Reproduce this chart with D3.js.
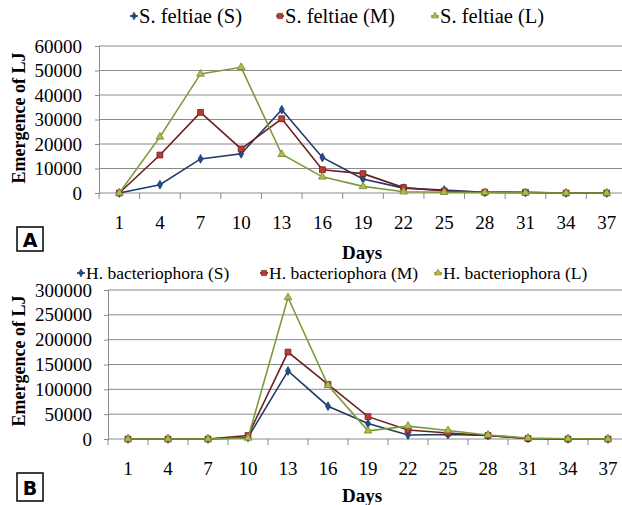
<!DOCTYPE html>
<html>
<head>
<meta charset="utf-8">
<script src="https://cdn.jsdelivr.net/npm/d3@7"></script>
</head>
<body style="margin:0">
<svg id="viz" width="622" height="505"></svg>
<script>
const SERIF = '"Liberation Serif", monospace';

// shared x categories (days)
const days = [1, 4, 7, 10, 13, 16, 19, 22, 25, 28, 31, 34, 37];

// panel A, S. feltiae
const feltiaeNames = ['S. feltiae (S)', 'S. feltiae (M)', 'S. feltiae (L)'];
const feltiaeS = [0, 3400, 13900, 16000, 34000, 14500, 5700, 2000, 1200, 300, 200, 0, 0];
const feltiaeM = [0, 15500, 32900, 18000, 30300, 9500, 7900, 2200, 800, 300, 300, 0, 0];
const feltiaeL = [0, 22900, 48600, 51300, 15800, 6600, 2700, 500, 300, 200, 100, 0, 0];
const feltiaeTicks = [0, 10000, 20000, 30000, 40000, 50000, 60000];

// panel B, H. bacteriophora
const bacterioNames = ['H. bacteriophora (S)', 'H. bacteriophora (M)', 'H. bacteriophora (L)'];
const bacterioS = [0, 0, 0, 3000, 137000, 66000, 31000, 8000, 9000, 7000, 1000, 0, 0];
const bacterioM = [0, 0, 0, 7000, 175000, 110000, 45000, 18000, 12000, 7000, 1000, 0, 0];
const bacterioL = [0, 0, 0, 2000, 285000, 108000, 16500, 26000, 17000, 8000, 2000, 500, 0];
const bacterioTicks = [0, 50000, 100000, 150000, 200000, 250000, 300000];

const STYLES = [
  { line: '#1f3a68', fill: '#1f4e8c', stroke: '#1f3a68', symbol: d3.symbolDiamond, size: 22 },
  { line: '#6b1f1f', fill: '#c0392b', stroke: '#6b1f1f', symbol: d3.symbolSquare, size: 34 },
  { line: '#7d9a3a', fill: '#b5b84a', stroke: '#6f8a30', symbol: d3.symbolTriangle, size: 26 }
];

const svg = d3.select('#viz');

function label(sel, { x, y, text, size, bold, anchor = 'middle' }) {
  const t = sel.append('text')
    .attr('x', x)
    .attr('y', y)
    .attr('dy', '0.35em')
    .attr('text-anchor', anchor)
    .attr('font-family', 'Liberation Serif')
    .style('font-family', SERIF)
    .style('font-size', `${size}px`)
    .text(text);
  if (bold) t.style('font-weight', 'bold');
  return t;
}

function drawPanel({
  names, series, ticks, left, right, top, bottom, legendY, legendX, legendSize,
  tickLabelY, titleY, yTitleY, tickRight, box, boxLabel
}) {
  const g = svg.append('g');
  const x = d3.scaleBand().domain(days).range([left, right]);
  const y = d3.scaleLinear().domain([ticks[0], ticks[ticks.length - 1]]).range([bottom, top]);

  // gridlines
  g.append('g').selectAll('line')
    .data(ticks.slice(1))
    .join('line')
    .attr('x1', left).attr('x2', right)
    .attr('y1', d => y(d)).attr('y2', d => y(d))
    .attr('stroke', '#8a8a8a')
    .attr('stroke-width', 1);

  // y axis line and ticks; labels drawn separately in the serif face
  const yAxis = g.append('g')
    .attr('transform', `translate(${left},0)`)
    .call(d3.axisLeft(y).tickValues(ticks).tickSize(4).tickFormat(''));
  yAxis.select('.domain').attr('stroke', '#8a8a8a');
  yAxis.selectAll('.tick line').attr('stroke', '#8a8a8a');
  ticks.forEach(t => label(g, {
    x: tickRight, y: y(t), text: d3.format('d')(t), size: 19, anchor: 'end'
  }));

  // x axis: ticks on category boundaries
  const xAxis = g.append('g')
    .attr('transform', `translate(0,${bottom})`);
  xAxis.append('line')
    .attr('x1', left).attr('x2', right)
    .attr('stroke', '#8a8a8a');
  xAxis.selectAll('line.tk')
    .data(days)
    .join('line')
    .attr('class', 'tk')
    .attr('x1', d => x(d)).attr('x2', d => x(d))
    .attr('y1', 0).attr('y2', 6)
    .attr('stroke', '#8a8a8a');
  days.forEach(d => label(g, {
    x: x(d) + x.bandwidth() / 2, y: tickLabelY, text: d, size: 19
  }));

  // lines + markers
  const line = d3.line()
    .x((d, i) => x(days[i]) + x.bandwidth() / 2)
    .y(d => y(d));
  series.forEach((vals, k) => {
    const st = STYLES[k];
    g.append('path')
      .datum(vals)
      .attr('fill', 'none')
      .attr('stroke', st.line)
      .attr('stroke-width', 1.6)
      .attr('d', line);
    g.append('g').selectAll('path')
      .data(vals)
      .join('path')
      .attr('transform', (d, i) => `translate(${x(days[i]) + x.bandwidth() / 2},${y(d)})`)
      .attr('d', d3.symbol().type(st.symbol).size(st.size))
      .attr('fill', st.fill)
      .attr('stroke', st.stroke)
      .attr('stroke-width', 0.8);
  });

  // legend
  names.forEach((name, k) => {
    const st = STYLES[k];
    const lx = legendX[k];
    g.append('line')
      .attr('x1', lx - 4).attr('x2', lx + 4)
      .attr('y1', legendY).attr('y2', legendY)
      .attr('stroke', st.line)
      .attr('stroke-width', 1.6);
    g.append('path')
      .attr('transform', `translate(${lx},${legendY})`)
      .attr('d', d3.symbol().type(st.symbol).size(st.size * 0.8))
      .attr('fill', st.fill)
      .attr('stroke', st.stroke)
      .attr('stroke-width', 0.6);
    label(g, {
      x: lx + 5, y: legendY, text: name, size: legendSize, anchor: 'start'
    });
  });

  // axis titles
  label(g, { x: 362, y: titleY, text: 'Days', size: 19, bold: true });
  label(g, { x: 0, y: 0, text: 'Emergence of LJ', size: 18, bold: true })
    .attr('transform', `translate(19,${yTitleY}) rotate(-90)`);

  // panel letter box
  g.append('rect')
    .attr('x', box[0]).attr('y', box[1])
    .attr('width', box[2]).attr('height', box[3])
    .attr('fill', '#fff')
    .attr('stroke', '#111')
    .attr('stroke-width', 1.6);
  g.append('text')
    .attr('x', box[0] + box[2] / 2)
    .attr('y', box[1] + box[3] / 2 + 1)
    .attr('dy', '0.35em')
    .attr('text-anchor', 'middle')
    .style('font-family', '"DejaVu Sans", monospace')
    .style('font-weight', 'bold')
    .style('font-size', '19px')
    .text(boxLabel);
}

drawPanel({
  names: feltiaeNames,
  series: [feltiaeS, feltiaeM, feltiaeL],
  ticks: feltiaeTicks,
  left: 99, right: 627, top: 46, bottom: 193,
  legendY: 16, legendX: [134, 280, 435], legendSize: 20.5,
  tickLabelY: 222, titleY: 252, yTitleY: 118, tickRight: 82,
  box: [17, 227, 26, 24], boxLabel: 'A'
});

drawPanel({
  names: bacterioNames,
  series: [bacterioS, bacterioM, bacterioL],
  ticks: bacterioTicks,
  left: 108, right: 628, top: 290, bottom: 439,
  legendY: 273, legendX: [81, 264, 438], legendSize: 17.5,
  tickLabelY: 468, titleY: 495, yTitleY: 361, tickRight: 92,
  box: [17, 473, 26, 28], boxLabel: 'B'
});
</script>
</body>
</html>
